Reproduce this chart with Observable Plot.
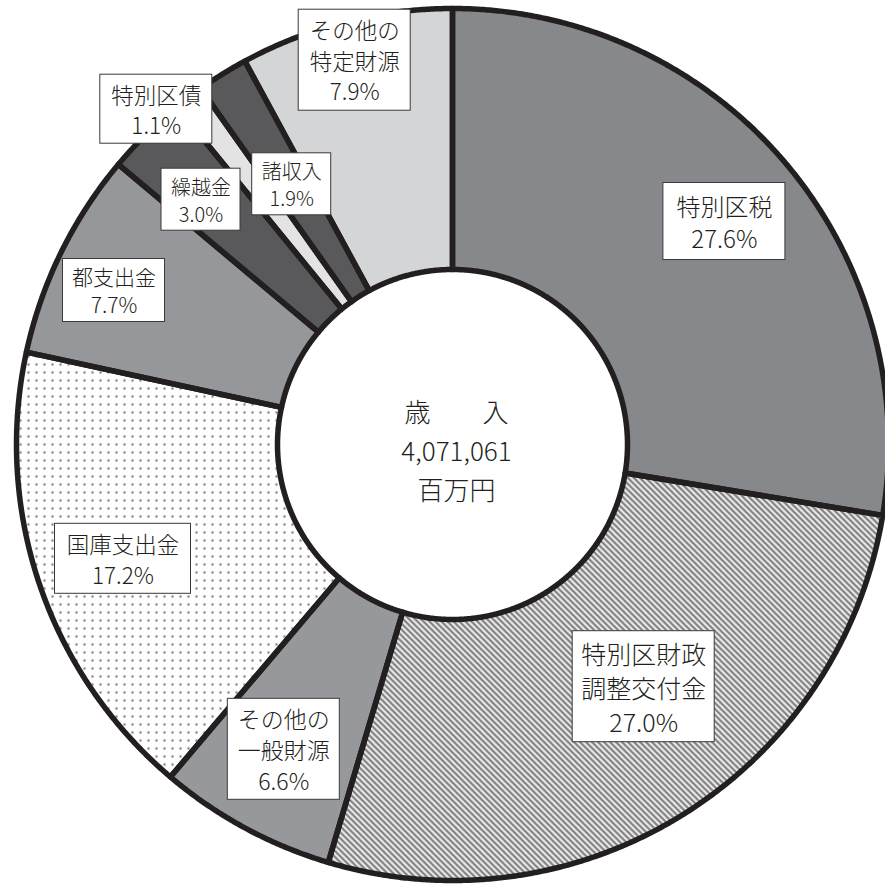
<!DOCTYPE html>
<html lang="ja">
<head>
<meta charset="utf-8">
<script src="https://cdn.jsdelivr.net/npm/d3@7"></script>
<script src="https://cdn.jsdelivr.net/npm/@observablehq/plot@0.6"></script>
<style>
  html, body { margin: 0; padding: 0; background: #fff; overflow: hidden; }
  #chart svg { display: block; }
</style>
</head>
<body>
<div id="chart"></div>
<script>
// ---- data ----
const categories = ["特別区税", "特別区財政調整交付金", "その他の一般財源", "国庫支出金", "都支出金", "繰越金", "特別区債", "諸収入", "その他の特定財源"];
const shares = [27.6, 27.0, 6.6, 17.2, 7.7, 3.0, 1.1, 1.9, 7.9];
const labelLines = [["特別区税"], ["特別区財政", "調整交付金"], ["その他の", "一般財源"], ["国庫支出金"], ["都支出金"], ["繰越金"], ["特別区債"], ["諸収入"], ["その他の", "特定財源"]];
const centerLines = ["歳　　入", "4,071,061", "百万円"];

// ---- styles ----
const sliceFills = ["#87888c", "url(#hatch)", "#97989c", "url(#dots)", "#96979b", "#59595b", "#e3e3e4", "#59595b", "#d4d5d7"];
const ink = "#231f20";

// ---- layout (label box centre relative to donut centre, px) ----
const labelLayout = [
  {cx: 271.9, cy: -223.0, w: 122, h: 77, fs: 24, gap: 32},
  {cx: 191.2, cy: 242.2, w: 142, h: 111, fs: 25, gap: 34},
  {cx: -168.7, cy: 304.8, w: 112, h: 101, fs: 23, gap: 31},
  {cx: -329.5, cy: 114.3, w: 136, h: 70, fs: 22.5, gap: 30.5},
  {cx: -338.5, cy: -154.0, w: 102, h: 63, fs: 21, gap: 28},
  {cx: -251.5, cy: -244.8, w: 79, h: 62, fs: 20, gap: 27},
  {cx: -296.2, cy: -335.3, w: 112, h: 69, fs: 22.5, gap: 30.5},
  {cx: -160.8, cy: -260.2, w: 79, h: 62, fs: 20, gap: 27},
  {cx: -97.8, cy: -384.3, w: 112, h: 101, fs: 22.5, gap: 30.5}
];
const R_OUT = 436, R_IN = 175;

// ---- derived geometry ----
const arcs = d3.pie().sort(null).value(d => d)(shares);
const slices = arcs.map((a, i) => {
  const pts = [];
  const n = Math.max(2, Math.ceil((a.endAngle - a.startAngle) / 0.005));
  for (let k = 0; k <= n; k++) {
    const t = a.startAngle + (a.endAngle - a.startAngle) * k / n;
    pts.push({x: R_OUT * Math.sin(t), y: -R_OUT * Math.cos(t)});
  }
  for (let k = n; k >= 0; k--) {
    const t = a.startAngle + (a.endAngle - a.startAngle) * k / n;
    pts.push({x: R_IN * Math.sin(t), y: -R_IN * Math.cos(t)});
  }
  return pts;
});

const boxes = labelLayout.map((L, i) => ({
  x1: L.cx - L.w / 2, x2: L.cx + L.w / 2, y1: L.cy - L.h / 2, y2: L.cy + L.h / 2
}));

const marks = [];
slices.forEach((pts, i) => {
  marks.push(Plot.line(pts, {x: "x", y: "y", curve: "linear-closed", fill: sliceFills[i], stroke: "none"}));
});
slices.forEach((pts, i) => {
  marks.push(Plot.line(pts, {x: "x", y: "y", curve: "linear-closed", fill: "none", stroke: ink, strokeWidth: 5.5, strokeLinejoin: "round"}));
});
marks.push(Plot.rect(boxes, {x1: "x1", x2: "x2", y1: "y1", y2: "y2", fill: "white", stroke: "#3a3a3a", strokeWidth: 1}));
labelLines.forEach((lines, i) => {
  const L = labelLayout[i];
  const txt = [...lines, `${shares[i].toFixed(1)}%`].join("\n");
  marks.push(Plot.text([{x: L.cx, y: L.cy, text: txt}], {
    x: "x", y: "y", text: "text", fontSize: L.fs, lineHeight: L.gap / L.fs,
    fill: ink, textAnchor: "middle", lineAnchor: "middle", fontWeight: 300
  }));
});
marks.push(Plot.text([{x: 4, y: 4, text: centerLines.join("\n")}], {
  x: "x", y: "y", text: "text", fontSize: 26, lineHeight: 39 / 26,
  fill: ink, textAnchor: "middle", lineAnchor: "middle", fontWeight: 300
}));

const svg = Plot.plot({
  width: 885,
  height: 884,
  margin: 0,
  x: {domain: [-452, 433], range: [0, 885], axis: null},
  y: {domain: [-444, 440], range: [0, 884], axis: null},
  style: {fontFamily: "'Noto Sans CJK JP', 'Noto Sans', sans-serif", background: "white"},
  marks
});

// patterns used by the slice fills
const defs = d3.select(svg).insert("defs", ":first-child");
const hatch = defs.append("pattern").attr("id", "hatch").attr("patternUnits", "userSpaceOnUse")
  .attr("width", 6).attr("height", 6);
hatch.append("rect").attr("width", 6).attr("height", 6).attr("fill", "white");
hatch.append("path").attr("d", "M-1,-1 L7,7 M-1,5 L1,7 M5,-1 L7,1")
  .attr("stroke", "#7c7c7e").attr("stroke-width", 2.3).attr("fill", "none");
const dots = defs.append("pattern").attr("id", "dots").attr("patternUnits", "userSpaceOnUse")
  .attr("width", 8).attr("height", 8);
dots.append("rect").attr("width", 8).attr("height", 8).attr("fill", "white");
dots.append("circle").attr("cx", 4).attr("cy", 4).attr("r", 1.2).attr("fill", "#7c7c7e");

document.getElementById("chart").appendChild(svg);
</script>
</body>
</html>
